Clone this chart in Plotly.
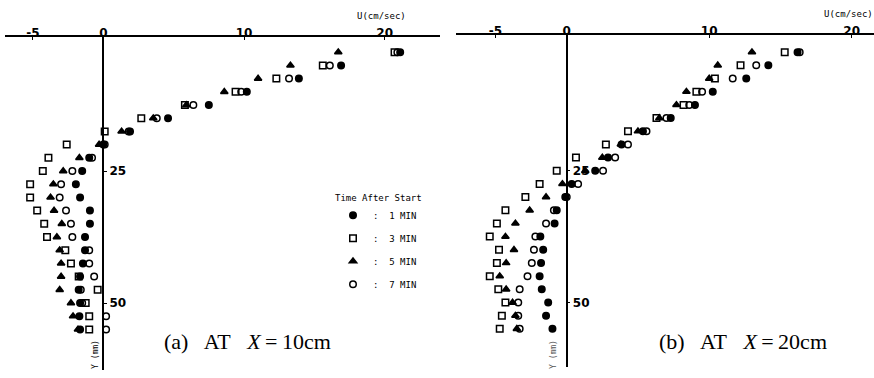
import plotly.graph_objects as go

# Depth rows (mm)
depth = [2.5, 5, 7.5, 10, 12.5, 15, 17.5, 20, 22.5, 25, 27.5, 30,
         32.5, 35, 37.5, 40, 42.5, 45, 47.5, 50, 52.5, 55]

# Panel (a) X = 10 cm : U (cm/sec)
a_1min = [21.1, 16.9, 13.9, 10.2, 7.5, 4.6, 1.9, 0.0, -1.0, -1.5, -1.95, -1.65,
          -0.95, -0.95, -1.3, -1.3, -1.45, -1.65, -1.75, -1.65, -1.7, -1.65]
a_3min = [20.7, 15.6, 12.3, 9.4, 5.8, 2.7, 0.1, -2.6, -3.9, -4.3, -5.2, -5.2,
          -4.7, -4.2, -4.0, -2.7, -2.3, -1.75, -0.4, -1.25, -1.0, -1.0]
a_5min = [16.7, 13.3, 11.0, 8.6, 5.9, 3.55, 1.3, -0.3, -1.7, -2.85, -3.55, -3.75,
          -3.5, -2.95, -3.3, -3.1, -3.0, -3.0, -3.1, -2.3, -2.15, -1.8]
a_7min = [20.9, 16.1, 13.2, 9.8, 6.4, 3.8, 1.8, 0.1, -0.8, -2.2, -3.0, -3.1,
          -2.65, -2.3, -2.2, -1.0, -1.0, -0.65, -1.6, -1.5, 0.2, 0.2]

# Panel (b) X = 20 cm : U (cm/sec)
b_1min = [16.2, 14.15, 12.6, 10.25, 9.0, 7.3, 5.35, 3.85, 2.9, 2.0, 0.35, -0.1,
          -0.7, -0.85, -1.85, -1.65, -1.8, -1.9, -1.75, -1.3, -1.45, -1.0]
b_3min = [15.3, 12.2, 10.4, 9.1, 8.2, 6.3, 4.3, 2.75, 0.65, -0.7, -1.9, -2.9,
          -4.3, -4.9, -5.4, -4.75, -4.9, -5.4, -4.8, -4.3, -4.55, -4.7]
b_5min = [13.0, 10.6, 10.0, 8.4, 7.7, 6.5, 5.0, 3.8, 2.5, 1.3, -0.3, -1.45,
          -2.6, -3.6, -4.3, -3.7, -4.25, -4.7, -4.25, -3.8, -3.6, -3.5]
b_7min = [16.35, 13.3, 11.65, 9.5, 8.6, 7.0, 5.6, 4.3, 3.4, 2.55, 0.8, 0.0,
          -0.9, -1.45, -2.2, -2.3, -2.45, -2.75, -3.3, -3.4, -3.4, -3.3]

series_names = [":  1 MIN", ":  3 MIN", ":  5 MIN", ":  7 MIN"]
symbols = ["circle", "square-open", "triangle-up", "circle-open"]
x_ticks = [-5, 0, 10, 20]
y_ticks = [25, 50]

W, H = 874, 378
fig = go.Figure()

for i, (vals, name, sym) in enumerate(zip([a_1min, a_3min, a_5min, a_7min], series_names, symbols)):
    fig.add_trace(go.Scatter(x=vals, y=depth, mode="markers", name=name,
                             legendgroup=f"g{i}", showlegend=True,
                             marker=dict(symbol=sym, size=6.5, color="black",
                                         line=dict(color="black", width=1.5)),
                             xaxis="x", yaxis="y"))
for i, (vals, name, sym) in enumerate(zip([b_1min, b_3min, b_5min, b_7min], series_names, symbols)):
    fig.add_trace(go.Scatter(x=vals, y=depth, mode="markers", name=name,
                             legendgroup=f"g{i}", showlegend=False,
                             marker=dict(symbol=sym, size=6.5, color="black",
                                         line=dict(color="black", width=1.5)),
                             xaxis="x2", yaxis="y2"))

def px_x(p):
    return p / W

def px_y(p):
    return 1 - p / H

tickfont = dict(family="DejaVu Sans", size=12, color="black")

xa_common = dict(side="top", showline=True, linecolor="black", linewidth=2,
                 ticks="inside", ticklen=3, tickcolor="black", tickvals=x_ticks,
                 ticktext=[f"<b>{v}</b>" for v in x_ticks],
                 showgrid=False, zeroline=False, tickfont=tickfont, ticklabelstandoff=-7)

ya_common = dict(anchor="free", side="right",
                 showline=True, linecolor="black", linewidth=1.5,
                 ticks="outside", ticklen=3, tickcolor="black", tickvals=y_ticks,
                 ticktext=[f"<b>{v}</b>" for v in y_ticks],
                 showgrid=False, zeroline=False, tickfont=tickfont)

# Left panel geometry: 0 -> px 103.3, 14.07 px/unit, line from 5 to 440
l0, ls = 103.3, 14.07
fig.update_layout(
    xaxis=dict(domain=[px_x(5), px_x(440)], range=[(5 - l0) / ls, (440 - l0) / ls],
               anchor="y", **xa_common),
    yaxis=dict(domain=[px_y(370), px_y(37)], range=[(370 - 39) / 5.28, (37 - 39) / 5.28],
               position=px_x(l0), **ya_common),
)
# Right panel geometry: 0 -> px 566.7, 14.25 px/unit
r0, rs = 566.7, 14.25
fig.update_layout(
    xaxis2=dict(domain=[px_x(456), 1.0], range=[(456 - r0) / rs, (W - r0) / rs],
                anchor="y2", **xa_common),
    yaxis2=dict(domain=[px_y(367), px_y(35)], range=[(367 - 39) / 5.27, (35 - 39) / 5.27],
                position=px_x(r0), **ya_common),
)

mono = "DejaVu Sans Mono"
NB = "\u00a0"
TH = "\u2009"
ann = []
ann.append(dict(text="U(cm/sec)", x=px_x(355), y=px_y(16), xref="paper", yref="paper",
                xanchor="left", yanchor="middle", showarrow=False,
                font=dict(family=mono, size=9, color="black")))
ann.append(dict(text="U(cm/sec)", x=px_x(822), y=px_y(14), xref="paper", yref="paper",
                xanchor="left", yanchor="middle", showarrow=False,
                font=dict(family=mono, size=9, color="black")))
ann.append(dict(text="Y (mm)", x=px_x(95), y=px_y(355), xref="paper", yref="paper",
                textangle=-90, xanchor="center", yanchor="middle", showarrow=False,
                font=dict(family=mono, size=8, color="black")))
ann.append(dict(text="Y (mm)", x=px_x(553), y=px_y(355), xref="paper", yref="paper",
                textangle=-90, xanchor="center", yanchor="middle", showarrow=False,
                font=dict(family=mono, size=8, color="#555555")))
serif = "Liberation Serif"
gap1 = NB * 2 + TH
gap2 = NB * 3
eq = f"{TH}={TH}"
ann.append(dict(text=f"(a){gap1}AT{gap2}<i>X</i>{eq}10cm", x=px_x(162), y=px_y(341), xref="paper", yref="paper",
                xanchor="left", yanchor="middle", showarrow=False,
                font=dict(family=serif, size=22, color="black")))
ann.append(dict(text=f"(b){gap1}AT{gap2}<i>X</i>{eq}20cm", x=px_x(657), y=px_y(341), xref="paper", yref="paper",
                xanchor="left", yanchor="middle", showarrow=False,
                font=dict(family=serif, size=22, color="black")))

fig.update_layout(
    width=W, height=H, margin=dict(l=0, r=0, t=0, b=0),
    paper_bgcolor="white", plot_bgcolor="white",
    annotations=ann,
    showlegend=True,
    legend=dict(x=px_x(333), y=px_y(189), xanchor="left", yanchor="top",
                title=dict(text="Time After Start", font=dict(family=mono, size=9, color="black")),
                font=dict(family=mono, size=9, color="black"),
                tracegroupgap=4, bgcolor="rgba(0,0,0,0)", borderwidth=0,
                itemwidth=30),
)

fig.write_html("out.html")
